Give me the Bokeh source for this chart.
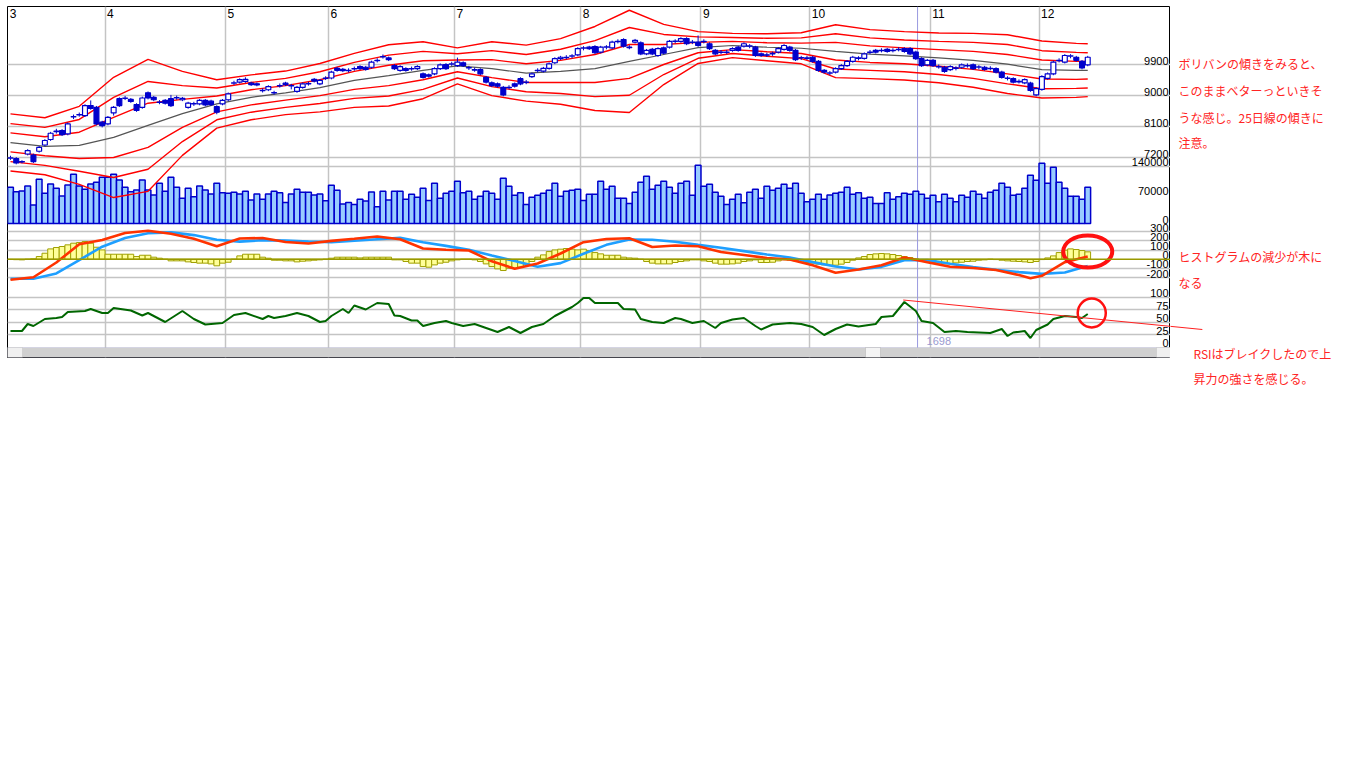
from bokeh.plotting import figure
from bokeh.layouts import row
from bokeh.models import (Range1d, Grid, FixedTicker, Span, BoxAnnotation, ColumnDataSource)
from bokeh.core.properties import value
from bokeh.embed import file_html
from bokeh.resources import INLINE

# ------------------------------------------------------------------ data
month_labels = ["3", "4", "5", "6", "7", "8", "9", "10", "11", "12"]
month_first_bar = [0, 17, 38, 56, 78, 100, 121, 140, 161, 180]

opens = [7190,7180,7090,7310,7280,7390,7570,7730,7960,7990,
         7890,8380,8440,8420,8710,8660,8230,8180,8500,8910,
         8920,8890,8740,8660,9080,8950,8800,8860,8910,8930,
         8880,8660,8760,8760,8860,8840,8680,8760,8880,9360,
         9390,9410,9360,9340,9140,9170,9080,9280,9360,9290,
         9120,9240,9340,9470,9340,9500,9510,9790,9760,9730,
         9770,9840,9820,9820,10010,10120,10090,9870,9730,9780,
         9780,9780,9630,9600,9630,9780,9900,9910,9870,9950,
         9800,9750,9750,9530,9370,9340,9240,9230,9340,9490,
         9390,9550,9720,9710,9790,9950,10070,10100,10140,10180,
         10370,10400,10420,10260,10400,10380,10560,10620,10400,10550,
         10530,10210,10340,10160,10380,10400,10570,10570,10650,10550,
         10550,10560,10500,10310,10260,10250,10310,10400,10430,10430,
         10400,10210,10180,10210,10260,10340,10400,10310,10090,10090,
         10110,9990,9730,9650,9680,9780,9870,9990,10080,10080,
         10250,10310,10300,10340,10310,10330,10360,10360,10260,10070,
         9890,10020,9840,9820,9750,9790,9820,9870,9890,9820,
         9820,9790,9780,9680,9500,9490,9410,9370,9360,9020,
         9180,9500,9630,10010,9970,10140,10110,9990,9890]
closes = [7200,7050,7080,7410,7090,7500,7700,7910,7970,7870,
          8180,8390,8450,8710,8630,8180,8130,8370,8660,8710,
          8930,8830,8570,8930,8930,8880,8810,8780,8710,8940,
          8920,8780,8770,8860,8730,8740,8520,8860,9050,9370,
          9460,9470,9320,9310,9150,9260,9090,9290,9320,9280,
          9240,9340,9350,9420,9440,9510,9680,9730,9720,9720,
          9780,9780,9760,9970,10020,10130,10040,9780,9840,9730,
          9770,9840,9530,9560,9780,9890,9780,9920,9970,9870,
          9810,9740,9630,9390,9290,9270,9020,9240,9270,9340,
          9380,9630,9730,9790,9920,10070,10110,10110,10150,10360,
          10380,10360,10240,10400,10410,10550,10570,10430,10390,10600,
          10210,10310,10210,10360,10230,10570,10580,10650,10500,10540,
          10450,10570,10360,10210,10250,10260,10360,10310,10500,10440,
          10160,10160,10170,10220,10360,10450,10310,10040,10100,10080,
          9990,9730,9680,9660,9780,9870,9990,10110,10090,10210,
          10260,10260,10310,10280,10300,10340,10280,10210,10070,9870,
          10020,9870,9830,9700,9840,9800,9890,9860,9780,9830,
          9760,9780,9680,9530,9510,9390,9400,9460,9150,9200,
          9550,9630,9970,10020,10160,10150,10020,9800,10110]
highs = [7260,7220,7130,7450,7320,7540,7740,7950,8040,8030,
         8220,8450,8510,8750,8860,8700,8270,8410,8700,8950,
         8990,8930,8780,8970,9120,8990,8870,8900,9020,9000,
         8960,8820,8820,8900,8900,8880,8720,8900,9090,9430,
         9500,9530,9400,9380,9210,9300,9140,9350,9400,9340,
         9280,9380,9400,9510,9480,9560,9720,9830,9800,9790,
         9840,9880,9860,10010,10080,10190,10130,9910,9880,9820,
         9840,9880,9670,9640,9820,9930,9940,9980,10100,9990,
         9860,9810,9790,9570,9410,9380,9280,9300,9380,9530,
         9450,9670,9790,9830,9960,10110,10150,10170,10200,10400,
         10430,10440,10460,10440,10460,10590,10630,10660,10460,10640,
         10570,10350,10380,10400,10420,10610,10630,10690,10690,10610,
         10740,10630,10540,10350,10320,10320,10400,10440,10540,10490,
         10440,10250,10240,10270,10400,10490,10440,10350,10150,10150,
         10150,10030,9770,9710,9820,9910,10030,10150,10140,10250,
         10320,10350,10370,10380,10370,10400,10400,10400,10300,10110,
         10060,10060,9900,9860,9880,9850,9930,9930,9930,9880,
         9860,9850,9820,9720,9560,9530,9470,9500,9400,9240,
         9590,9670,10010,10080,10200,10200,10150,10030,10150]
lows = [7140,7010,7040,7270,7050,7350,7530,7690,7900,7830,
        7850,8320,8390,8380,8590,8140,8080,8140,8420,8670,
        8870,8790,8530,8620,8890,8840,8750,8740,8670,8880,
        8840,8620,8700,8720,8690,8700,8460,8720,8840,9310,
        9350,9370,9280,9270,9090,9130,9030,9230,9280,9180,
        9080,9200,9290,9380,9300,9450,9470,9690,9680,9670,
        9720,9740,9720,9780,9960,10070,10000,9740,9690,9690,
        9720,9740,9490,9520,9590,9740,9740,9860,9830,9830,
        9740,9690,9590,9350,9250,9230,8980,9180,9230,9300,
        9330,9510,9670,9670,9750,9910,10030,10050,10080,10140,
        10310,10320,10200,10220,10340,10340,10510,10390,10340,10510,
        10170,10170,10170,10120,10190,10360,10510,10530,10460,10490,
        10410,10510,10320,10170,10200,10200,10270,10270,10390,10370,
        10120,10120,10120,10150,10220,10300,10270,10000,10030,10030,
        9950,9690,9640,9590,9640,9740,9830,9950,10020,10040,
        10200,10220,10250,10240,10250,10280,10240,10170,10030,9830,
        9850,9830,9780,9660,9710,9730,9780,9810,9740,9760,
        9720,9730,9640,9490,9440,9350,9350,9330,9110,8980,
        9140,9460,9590,9960,9930,10080,9980,9760,9850]
volumes = [88500,77800,79400,91700,45000,108100,73700,96600,86000,67200,
           94200,120400,91700,83500,96600,100700,113000,113000,120400,106500,
           88500,77800,81900,106500,81900,69600,98300,78600,113000,88500,
           61400,86000,65500,91700,81900,72100,98300,75300,73700,76200,
           72100,78600,57300,72100,59000,72100,78600,75300,51600,72100,
           83500,76200,76200,69600,72100,55700,93400,81100,47500,51600,
           46700,59000,54900,77000,41000,78600,57300,78600,78600,59000,
           71300,63900,86000,56500,98300,61400,73700,78600,103200,75300,
           78600,59000,66300,78600,73700,59000,110600,90900,68800,75300,
           46700,63900,68800,73700,81100,98300,66300,78600,81100,83500,
           56500,71300,71300,103200,83500,90900,61400,61400,49100,76200,
           100700,115500,83500,93400,103200,88500,73700,98300,103200,68800,
           142500,90900,95800,76200,66300,46700,59000,71300,50800,76200,
           83500,61400,90900,81100,86000,95800,86000,98300,73700,53200,
           59000,71300,59000,69600,73700,76200,88500,71300,75300,61400,
           63900,49100,49100,75300,59000,65500,73700,71300,78600,71300,
           61400,68800,53200,71300,61400,53200,68800,63900,78600,71300,
           61400,76200,81100,98300,88500,68800,71300,86000,117900,105700,
           147400,98300,137600,100700,86000,66300,66300,59000,88500]

# Bollinger bands (25-day line and +-1/2/3 sigma), read at every 6th bar
bb_index = [0,6,12,18,24,30,36,42,48,54,60,66,72,78,84,90,96,102,108,114,
            120,126,132,138,144,150,156,162,168,174,180,186,188]
bb_mid = [7640,7530,7560,7790,8140,8480,8760,8950,9080,9230,9440,9580,9730,9860,
          9780,9650,9700,9780,9990,10190,10390,10450,10400,10370,10280,10200,
          10150,10090,10020,9910,9750,9730,9730]
bb_up1 = [7920,7810,7940,8370,8780,8890,8990,9170,9290,9460,9700,9880,10010,10030,
          10040,9920,10020,10190,10480,10480,10540,10570,10530,10520,10540,10440,
          10380,10330,10280,10190,10030,9990,9990]
bb_up2 = [8190,8080,8310,8950,9410,9290,9220,9380,9500,9690,9960,10170,10280,10210,
          10300,10190,10340,10590,10970,10770,10700,10680,10660,10670,10790,10670,
          10610,10570,10540,10480,10300,10250,10240]
bb_up3 = [8470,8360,8690,9530,10050,9700,9460,9600,9710,9930,10220,10470,10560,10380,
          10560,10460,10650,11000,11470,11060,10850,10800,10790,10820,11050,10910,
          10850,10810,10800,10760,10580,10510,10500]
bb_dn1 = [7370,7260,7180,7210,7500,8080,8530,8730,8870,9000,9180,9290,9460,9690,
          9520,9380,9380,9380,9500,9900,10240,10330,10270,10220,10030,9960,
          9920,9850,9760,9630,9480,9470,9480]
bb_dn2 = [7090,6980,6810,6630,6870,7670,8300,8520,8660,8770,8920,8990,9180,9510,
          9260,9110,9060,8970,9010,9610,10080,10220,10140,10070,9770,9730,
          9690,9610,9500,9340,9200,9210,9220]
bb_dn3 = [6820,6710,6430,6050,6230,7270,8060,8300,8450,8530,8660,8700,8910,9340,
          9000,8840,8750,8570,8510,9320,9930,10100,10010,9920,9520,9490,
          9450,9370,9240,9060,8930,8950,8970]

macd_index = [0,4,8,12,16,20,24,28,32,36,40,44,48,52,56,60,64,68,72,76,80,84,88,92,
              96,100,104,108,112,116,120,124,128,132,136,140,144,148,152,156,160,
              164,168,172,176,178,180,184,188]
macd_values = [-224,-196,-36,162,209,285,310,276,222,140,225,230,187,171,199,222,247,
               216,116,102,95,-23,-104,-47,62,185,220,227,133,149,140,78,46,13,-3,
               -66,-148,-112,-65,18,-33,-82,-96,-117,-172,-206,-180,-33,29]
signal_index = [0,4,8,12,16,20,24,28,32,36,40,44,48,52,56,60,64,68,72,76,80,84,88,92,
                96,100,104,108,112,116,120,124,128,132,136,140,144,148,152,156,160,
                164,168,172,176,180,184,188]
signal_values = [-213,-213,-155,-9,136,230,283,292,262,211,191,207,203,192,185,200,217,
                 232,184,145,102,40,-20,-83,-43,59,156,214,211,189,156,124,88,51,18,
                 -32,-79,-112,-83,-12,-9,-49,-86,-114,-140,-160,-145,-75]
histogram = [-3,-5,-7,0,4,
             29,65,112,127,138,156,174,181,192,174,
             130,101,54,54,54,54,54,29,43,43,
             22,11,0,-18,-18,-18,-29,-36,-43,-43,
             -51,-72,-43,-33,0,36,54,54,54,22,
             11,-11,-11,-18,-18,-29,-22,-18,-11,-7,
             0,11,22,22,22,22,14,22,22,22,
             22,22,-7,-7,-25,-43,-43,-80,-87,-62,
             -43,-33,-18,-7,0,0,-7,-25,-51,-80,
             -105,-123,-98,-98,-87,-62,-25,22,47,83,
             101,109,116,109,101,109,94,72,58,43,
             43,43,22,14,11,0,-25,-43,-51,-51,
             -51,-36,-25,-18,-7,-7,-18,-25,-43,-54,
             -54,-51,-43,-25,-18,-7,-36,-36,-33,-18,
             -7,-11,-18,-29,-36,-43,-54,-62,-65,-65,
             -54,-36,-11,14,29,51,58,62,58,51,
             40,29,18,4,-7,-22,-36,-43,-51,-51,
             -40,-33,-25,-22,-11,-7,0,-4,-11,-18,
             -22,-25,-29,-36,-25,-4,14,36,72,98,
             112,105,94,80]

rsi_index = [0,2,3,4,6,8,9,10,13,14,16,17,18,21,23,24,27,30,32,34,37,39,41,44,45,46,
             48,50,52,54,55,56,58,59,60,62,64,66,67,68,70,71,72,74,76,77,79,81,83,85,
             87,89,91,93,95,98,99,100,101,102,106,107,109,110,112,114,116,117,119,121,
             123,124,126,128,130,131,133,136,138,140,142,144,146,148,151,152,154,156,
             158,159,161,163,165,167,171,173,174,175,177,178,179,181,182,184,186,187,188]
rsi_values = [32,32,46,42,56,58,60,70,72,76,68,68,78,73,63,68,50,72,56,45,48,64,68,56,
              62,58,62,68,62,50,52,62,76,68,83,75,88,86,63,62,53,53,42,48,52,48,42,46,
              38,30,40,28,40,46,62,80,88,98,98,88,88,76,75,56,50,48,58,56,48,52,38,48,
              55,58,42,35,45,48,46,40,24,36,45,41,46,60,62,90,72,52,48,30,32,30,28,36,
              22,29,32,18,34,45,56,62,60,58,66]

price_ticks = [9900, 9000, 8100, 7200]
volume_ticks = [140000, 70000, 0]
macd_ticks = [300, 200, 100, 0, -100, -200]
rsi_ticks = [100, 75, 50, 25, 0]

cursor_bar = 158.3
cursor_label = "1698"

# hand-drawn marks of the author: (bar, value, width in bars, height in value units)
macd_circle = (188.0, 84, 8.55, 350)
rsi_circle = (188.7, 68, 4.9, 58)
rsi_trend_bars = [155.8, 208.0]
rsi_trend_values = [94, 35]

notes = [
    ("ボリバンの傾きをみると、", 1178, 63),
    ("このままベターっといきそ", 1178, 90),
    ("うな感じ。25日線の傾きに", 1178, 117),
    ("注意。", 1178, 142),
    ("ヒストグラムの減少が木に", 1178, 256),
    ("なる", 1178, 282),
    ("RSIはブレイクしたので上", 1193, 353),
    ("昇力の強さを感じる。", 1193, 378),
]

# ------------------------------------------------------------------ layout geometry
FRAME = dict(left=7, right=1170, top=6, bottom=357)   # chart frame, page pixels
PAGE_RIGHT, PAGE_BOTTOM = 1352, 395
BAR_X0, BAR_DX = 10.0, 5.73
CAL = {
    "price": ((9900, 64.0), (7200, 157.3)),
    "vol": ((140000, 165.7), (0, 223.0)),
    "macd": ((300, 231.1), (0, 258.7)),
    "rsi": ((100, 296.5), (0, 346.5)),
}


def panel_range(cal, top, bottom):
    (v1, y1), (v2, y2) = cal
    per_px = (v1 - v2) / (y2 - y1)
    return Range1d(v1 - (bottom - y1) * per_px, v1 + (y1 - top) * per_px)


def bar_at(px):
    return (px - BAR_X0) / BAR_DX


p = figure(frame_width=FRAME["right"] - FRAME["left"],
           frame_height=FRAME["bottom"] - FRAME["top"],
           x_range=Range1d(bar_at(FRAME["left"]), bar_at(FRAME["right"])),
           y_range=panel_range(CAL["price"], FRAME["top"], FRAME["bottom"]),
           x_axis_type=None, y_axis_type=None,
           toolbar_location=None, output_backend="svg",
           min_border_left=FRAME["left"], min_border_top=FRAME["top"],
           min_border_right=0, min_border_bottom=PAGE_BOTTOM - FRAME["bottom"])
p.extra_y_ranges = {k: panel_range(CAL[k], FRAME["top"], FRAME["bottom"])
                    for k in ("vol", "macd", "rsi")}
p.extra_y_ranges["px"] = Range1d(FRAME["bottom"], FRAME["top"])
p.extra_x_ranges = {"px": Range1d(FRAME["left"], FRAME["right"])}
p.outline_line_color = "black"
p.outline_line_width = 1
p.background_fill_color = "white"
p.border_fill_color = "white"

GRID = "#c4c4c4"
p.add_layout(Grid(dimension=0, ticker=FixedTicker(ticks=[b - 0.5 for b in month_first_bar[1:]]),
                  grid_line_color=GRID, grid_line_width=1.5))
p.add_layout(Grid(dimension=1, ticker=FixedTicker(ticks=price_ticks),
                  grid_line_color=GRID, grid_line_width=1.5))
p.add_layout(Grid(dimension=1, ticker=FixedTicker(ticks=[140000]), y_range_name="vol",
                  grid_line_color=GRID, grid_line_width=1.5))
p.add_layout(Grid(dimension=1, ticker=FixedTicker(ticks=[t for t in macd_ticks if t != 0]),
                  y_range_name="macd", grid_line_color=GRID, grid_line_width=1.5))
p.add_layout(Grid(dimension=1, ticker=FixedTicker(ticks=rsi_ticks[:-1]), y_range_name="rsi",
                  grid_line_color=GRID, grid_line_width=1.5))

p.add_layout(Span(location=cursor_bar, dimension="height", line_color="#9a9ae0",
                  line_width=1, level="underlay"))

bars = list(range(len(closes)))

# volume
p.vbar(x=bars, top=volumes, bottom=0, width=1.0, y_range_name="vol",
       fill_color="#99ccff", line_color="#0000cc", line_width=1.5)

# Bollinger
for band in (bb_up3, bb_up2, bb_up1, bb_dn1, bb_dn2, bb_dn3):
    p.line(bb_index, band, line_color="#ff0000", line_width=1.4)
p.line(bb_index, bb_mid, line_color="#555555", line_width=1.2)

# candles
BLUE = "#0000cc"
p.segment(x0=bars, y0=lows, x1=bars, y1=highs, line_color=BLUE, line_width=1)
up_ids = [i for i in bars if closes[i] >= opens[i]]
dn_ids = [i for i in bars if closes[i] < opens[i]]
up = ColumnDataSource(dict(x=up_ids, top=[closes[i] for i in up_ids],
                           bottom=[opens[i] for i in up_ids]))
dn = ColumnDataSource(dict(x=dn_ids, top=[opens[i] for i in dn_ids],
                           bottom=[closes[i] for i in dn_ids]))
p.vbar(x="x", top="top", bottom="bottom", width=0.85, source=up,
       fill_color="white", line_color=BLUE, line_width=1.2)
p.vbar(x="x", top="top", bottom="bottom", width=0.85, source=dn,
       fill_color=BLUE, line_color=BLUE, line_width=1.2)

# MACD
p.vbar(x=bars, top=histogram, bottom=0, width=1.0, y_range_name="macd",
       fill_color="#ffff99", line_color="#a0a000", line_width=1)
p.add_layout(Span(location=0, dimension="width", y_range_name="macd",
                  line_color="#999900", line_width=1.5))
p.line(signal_index, signal_values, y_range_name="macd", line_color="#1e9fff", line_width=2.6)
p.line(macd_index, macd_values, y_range_name="macd", line_color="#ff3300", line_width=2.6)

# RSI
p.line(rsi_index, rsi_values, y_range_name="rsi", line_color="#006600", line_width=2)

# author's marks
p.ellipse(x=[macd_circle[0]], y=[macd_circle[1]], width=macd_circle[2], height=macd_circle[3],
          y_range_name="macd", fill_color=None, line_color="#ff1010", line_width=4)
p.ellipse(x=[rsi_circle[0]], y=[rsi_circle[1]], width=rsi_circle[2], height=rsi_circle[3],
          y_range_name="rsi", fill_color=None, line_color="#ff1010", line_width=2.5)
p.line(rsi_trend_bars, rsi_trend_values, y_range_name="rsi", line_color="#ff2020", line_width=1)

# scale labels at the right edge
label_x = bar_at(FRAME["right"] - 2)
for ticks, rname in ((price_ticks, "default"), (volume_ticks, "vol"),
                     (macd_ticks, "macd"), (rsi_ticks, "rsi")):
    p.text(x=[label_x] * len(ticks), y=ticks, text=[str(t) for t in ticks],
           y_range_name=rname, text_align="right", text_baseline="bottom",
           text_font=value("Liberation Sans"), text_font_size="11px", text_color="black")

# month labels
p.text(x=[b - 0.5 for b in month_first_bar], y=[FRAME["top"]] * len(month_first_bar),
       text=month_labels, y_range_name="px", x_offset=2, y_offset=2,
       text_align="left", text_baseline="top",
       text_font=value("Liberation Sans"), text_font_size="12px", text_color="black")

p.text(x=[cursor_bar + 3.7], y=[13], text=[cursor_label], y_range_name="rsi",
       text_align="center", text_baseline="middle",
       text_font=value("Liberation Sans"), text_font_size="11px", text_color="#9a9ad0")

# scrollbar
SB_TOP = FRAME["bottom"] - 10
for left, right, fill, line in ((FRAME["left"], FRAME["right"], "#d0d0d0", "#a8a8d8"),
                                (FRAME["left"], FRAME["left"] + 15, "#f0f0f0", "#b0b0b0"),
                                (FRAME["right"] - 14, FRAME["right"], "#f0f0f0", "#b0b0b0"),
                                (865, 880, "#f4f4f4", "#909090")):
    p.add_layout(BoxAnnotation(left=left, right=right, top=SB_TOP, bottom=FRAME["bottom"],
                               x_range_name="px", y_range_name="px",
                               fill_color=fill, fill_alpha=1, line_color=line, line_width=1))

# ------------------------------------------------------------------ notes panel (right side)
n = figure(frame_width=PAGE_RIGHT - FRAME["right"], frame_height=PAGE_BOTTOM - FRAME["top"],
           x_range=Range1d(bar_at(FRAME["right"]), bar_at(PAGE_RIGHT)),
           y_range=Range1d(PAGE_BOTTOM, FRAME["top"]),
           x_axis_type=None, y_axis_type=None,
           toolbar_location=None, output_backend="svg",
           min_border_left=0, min_border_top=FRAME["top"], min_border_right=0, min_border_bottom=0)
n.outline_line_color = None
n.background_fill_color = "white"
n.border_fill_color = "white"
n.extra_y_ranges = {"rsi": panel_range(CAL["rsi"], FRAME["top"], PAGE_BOTTOM)}
n.extra_x_ranges = {"px": Range1d(FRAME["right"], PAGE_RIGHT)}
n.line(rsi_trend_bars, rsi_trend_values, y_range_name="rsi", line_color="#ff2020", line_width=1)
n.text(x=[t[1] for t in notes], y=[t[2] for t in notes], text=[t[0] for t in notes],
       x_range_name="px", text_align="left", text_baseline="middle",
       text_font=value("Noto Sans CJK JP"), text_font_size="12px", text_color="#ff2424")

layout = row(p, n, spacing=0)
open("out.html", "w").write(file_html(layout, INLINE))
